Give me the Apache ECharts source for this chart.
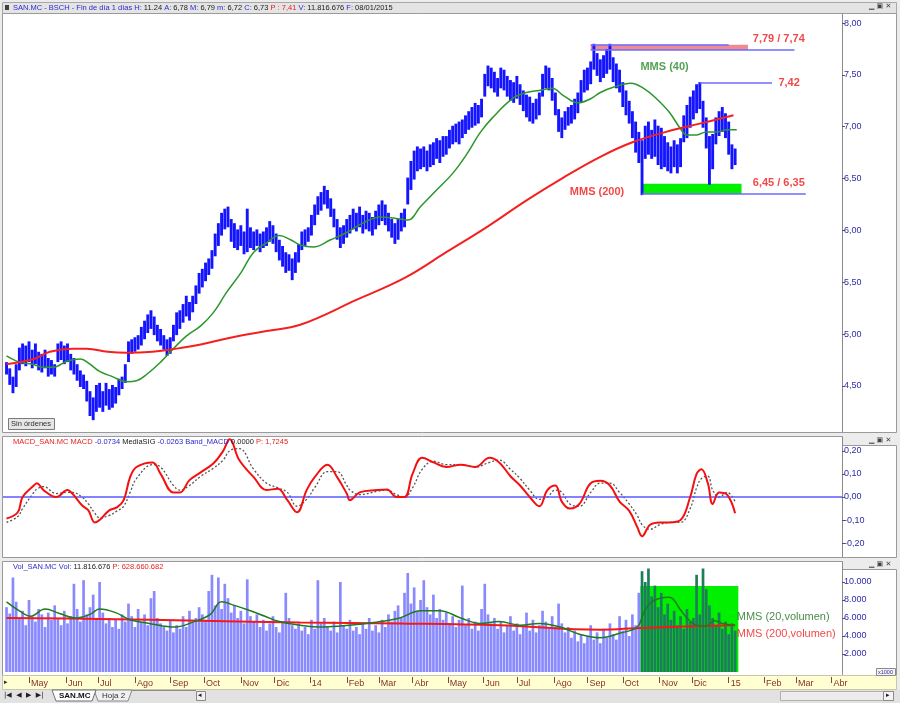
<!DOCTYPE html>
<html lang="es">
<head>
<meta charset="UTF-8">
<title>SAN.MC - BSCH</title>
<script src="https://cdn.jsdelivr.net/npm/echarts@6/dist/echarts.min.js"></script>
<style>
  html, body { margin: 0; padding: 0; width: 100%; height: 100%; background: #ececec; }
  #chart { width: 900px; height: 703px; }
</style>
</head>
<body>
<div id="chart"></div>
<script>
  // x axis = trading day index, day 0 = 11/04/2013
  const monthNames = ['', 'Feb', 'Mar', 'Abr', 'May', 'Jun', 'Jul', 'Ago', 'Sep', 'Oct', 'Nov', 'Dic'];

  // price bars, one every 2 sessions (day index = 2 * i)
  const priceLow = [
    4.62, 4.52, 4.44, 4.50, 4.66, 4.72, 4.70, 4.74, 4.68, 4.72,
    4.66, 4.64, 4.68, 4.60, 4.62, 4.60, 4.74, 4.76, 4.72, 4.74,
    4.66, 4.62, 4.56, 4.50, 4.48, 4.36, 4.22, 4.18, 4.26, 4.30,
    4.26, 4.32, 4.28, 4.30, 4.34, 4.42, 4.48, 4.54, 4.74, 4.82,
    4.84, 4.86, 4.90, 4.96, 5.02, 5.06, 5.00, 4.94, 4.90, 4.86,
    4.80, 4.82, 4.94, 5.00, 5.06, 5.12, 5.18, 5.14, 5.22, 5.30,
    5.40, 5.46, 5.52, 5.58, 5.64, 5.76, 5.86, 5.96, 6.02, 6.04,
    5.90, 5.84, 5.82, 5.86, 5.78, 5.80, 5.84, 5.82, 5.86, 5.80,
    5.84, 5.86, 5.90, 5.88, 5.80, 5.72, 5.66, 5.60, 5.62, 5.53,
    5.60, 5.70, 5.82, 5.86, 5.90, 5.96, 6.06, 6.16, 6.20, 6.26,
    6.22, 6.14, 6.04, 5.92, 5.84, 5.88, 5.94, 5.98, 6.02, 6.00,
    6.04, 5.98, 6.02, 6.00, 5.96, 6.02, 6.06, 6.10, 6.06, 6.00,
    5.94, 5.88, 5.92, 6.00, 6.04, 6.26, 6.40, 6.50, 6.58, 6.60,
    6.62, 6.58, 6.62, 6.64, 6.70, 6.66, 6.72, 6.74, 6.80, 6.84,
    6.86, 6.84, 6.90, 6.94, 6.98, 7.00, 7.02, 7.04, 7.10, 7.30,
    7.40, 7.38, 7.34, 7.30, 7.38, 7.36, 7.30, 7.26, 7.24, 7.28,
    7.22, 7.16, 7.10, 7.06, 7.04, 7.08, 7.12, 7.30, 7.38, 7.36,
    7.26, 7.12, 6.96, 6.90, 6.98, 7.02, 7.04, 7.08, 7.14, 7.24,
    7.34, 7.36, 7.42, 7.56, 7.50, 7.44, 7.48, 7.52, 7.56, 7.44,
    7.38, 7.34, 7.20, 7.12, 7.04, 6.90, 6.76, 6.66, 6.35, 6.70,
    6.74, 6.70, 6.72, 6.64, 6.60, 6.62, 6.58, 6.56, 6.62, 6.56,
    6.62, 6.86, 6.90, 7.00, 7.08, 7.14, 7.18, 7.00, 6.80, 6.45,
    6.60, 6.84, 6.92, 6.96, 6.90, 6.74, 6.60, 6.64
  ];
  const priceHigh = [
    4.72, 4.66, 4.58, 4.70, 4.86, 4.90, 4.88, 4.92, 4.84, 4.90,
    4.82, 4.80, 4.84, 4.76, 4.74, 4.70, 4.90, 4.92, 4.88, 4.90,
    4.80, 4.76, 4.70, 4.64, 4.60, 4.54, 4.44, 4.38, 4.50, 4.52,
    4.44, 4.52, 4.46, 4.50, 4.48, 4.56, 4.58, 4.70, 4.92, 4.94,
    4.96, 4.98, 5.06, 5.12, 5.18, 5.22, 5.16, 5.08, 5.04, 4.98,
    4.94, 4.96, 5.08, 5.20, 5.22, 5.28, 5.36, 5.30, 5.36, 5.46,
    5.58, 5.62, 5.68, 5.72, 5.80, 5.96, 6.06, 6.16, 6.20, 6.22,
    6.10, 6.06, 6.00, 6.04, 5.98, 6.20, 6.02, 5.98, 6.00, 5.96,
    5.98, 6.02, 6.08, 6.04, 5.96, 5.90, 5.84, 5.78, 5.76, 5.72,
    5.78, 5.86, 5.98, 6.00, 6.02, 6.14, 6.24, 6.32, 6.36, 6.42,
    6.38, 6.30, 6.20, 6.10, 6.02, 6.04, 6.10, 6.14, 6.20, 6.16,
    6.22, 6.14, 6.18, 6.16, 6.12, 6.18, 6.24, 6.28, 6.24, 6.16,
    6.10, 6.06, 6.10, 6.16, 6.20, 6.50, 6.66, 6.76, 6.80, 6.78,
    6.80, 6.76, 6.82, 6.84, 6.88, 6.86, 6.90, 6.90, 6.96, 7.00,
    7.02, 7.04, 7.06, 7.10, 7.14, 7.18, 7.22, 7.20, 7.26, 7.50,
    7.58, 7.56, 7.52, 7.46, 7.56, 7.54, 7.48, 7.44, 7.42, 7.48,
    7.40, 7.34, 7.30, 7.28, 7.22, 7.26, 7.32, 7.50, 7.58, 7.56,
    7.46, 7.32, 7.16, 7.08, 7.14, 7.18, 7.20, 7.26, 7.32, 7.44,
    7.54, 7.56, 7.62, 7.79, 7.70, 7.64, 7.68, 7.74, 7.79, 7.66,
    7.60, 7.54, 7.42, 7.34, 7.24, 7.14, 7.04, 6.94, 6.86, 7.00,
    7.04, 6.96, 7.06, 7.00, 6.98, 6.90, 6.84, 6.80, 6.86, 6.82,
    6.88, 7.10, 7.20, 7.28, 7.34, 7.40, 7.42, 7.24, 7.08, 6.90,
    6.92, 7.08, 7.14, 7.18, 7.12, 7.04, 6.82, 6.78
  ];
  // volume (miles), same sessions as the price bars
  const volume = [
    7200, 6500, 10500, 7800, 6000, 6800, 5200, 8000, 6200, 5600,
    7000, 6400, 5000, 6600, 5800, 7400, 6000, 5200, 6800, 5400,
    6200, 9800, 7000, 5600, 10200, 6400, 7200, 8600, 6000, 10000,
    6600, 5400, 6000, 5000, 5800, 4800, 6400, 5600, 7600, 6200,
    5000, 7000, 5600, 6400, 5200, 8200, 9000, 6000, 5400, 5000,
    4600, 5800, 4400, 5200, 4800, 6200, 5000, 6800, 5600, 6000,
    7200, 6400, 5800, 9000, 10800, 7400, 10500, 7000, 9800, 8200,
    6600, 7400, 6000, 6800, 5400, 10300, 6200, 5600, 6400, 5000,
    5800, 4600, 5400, 6200, 5000, 4400, 5600, 8800, 6000, 5200,
    4800, 5400, 4600, 5000, 4200, 5800, 4800, 10200, 5400, 6000,
    5000, 4600, 5600, 4400, 10000, 5200, 4800, 5800, 4600, 5000,
    4200, 5400, 4800, 6000, 4600, 5200, 4400, 5800, 5000, 6400,
    5600, 6800, 7400, 6000, 8800, 11000, 7600, 9400, 6800, 8000,
    10200, 7200, 6400, 8600, 6000, 7000, 5800, 6600, 5400, 6200,
    5000, 5800, 9600, 5200, 6000, 4800, 5600, 4600, 7000, 9800,
    6400, 5400, 6000, 4800, 5600, 4400, 5200, 6200, 4600, 5400,
    4200, 5000, 6600, 4600, 5800, 4400, 5200, 6800, 5600, 4800,
    6200, 5000, 7600, 5400, 4400, 5000, 3800, 4600, 3400, 4200,
    3200, 4000, 5200, 3600, 4400, 3200, 4800, 3800, 5400, 4200,
    3600, 6200, 4600, 5800, 4000, 6400, 5200, 8800, 11200, 10000,
    11500, 8400, 9600, 7200, 8800, 6400, 7600, 5800, 6800, 5200,
    6200, 4800, 7000, 5600, 6000, 10800, 6400, 11500, 9200, 7400,
    6000, 5200, 6600, 4800, 5600, 4200, 5400, 4600
  ];

  // MMS (40) and MMS (200) of the price
  const ma40Days = [0, 8, 16, 23, 29, 38, 46, 52, 58, 66, 75, 81, 88, 96, 104, 112, 121, 129, 137, 146,
    154, 162, 170, 177, 183, 191, 202, 212, 222, 233, 241, 250, 258, 268, 278, 287, 295, 303, 316, 324,
    332, 340, 347, 356, 364, 370, 378, 389, 397, 405, 413, 420, 424, 430, 436, 443, 449, 455];
  const ma40 = [4.79, 4.73, 4.71, 4.68, 4.68, 4.74, 4.76, 4.71, 4.64, 4.59, 4.54, 4.55, 4.62, 4.73, 4.86, 4.98, 5.08, 5.21, 5.40, 5.59,
    5.79, 5.88, 5.95, 5.91, 5.86, 5.84, 5.91, 5.98, 6.07, 6.13, 6.12, 6.10, 6.23, 6.39, 6.55, 6.74, 6.94, 7.09, 7.28, 7.33,
    7.35, 7.37, 7.30, 7.23, 7.27, 7.33, 7.38, 7.42, 7.37, 7.27, 7.14, 6.98, 6.92, 6.92, 6.95, 6.95, 6.97, 6.97];
  const ma200Days = [0, 17, 27, 41, 50, 63, 75, 91, 106, 121, 141, 162, 183, 218, 249, 274, 299, 324, 347, 370, 390, 411, 432, 453];
  const ma200 = [4.71, 4.76, 4.83, 4.86, 4.86, 4.83, 4.82, 4.83, 4.86, 4.90, 4.97, 5.03, 5.09, 5.33, 5.55, 5.79, 6.03, 6.29, 6.51, 6.71, 6.85, 6.95, 7.03, 7.11];

  // MACD and its signal (MediaSIG)
  const macdDays = [0, 7, 10, 17, 19, 23, 31, 38, 41, 47, 51, 55, 58, 64, 69, 73, 77, 81, 91, 96,
    104, 108, 114, 121, 129, 135, 139, 145, 154, 162, 169, 175, 181, 187, 192, 200, 206, 212, 214, 220,
    231, 237, 243, 248, 253, 259, 266, 274, 283, 292, 301, 307, 314, 320, 326, 332, 337, 342, 346, 351,
    357, 364, 370, 376, 382, 388, 393, 396, 401, 407, 413, 420, 426, 430, 433, 437, 440, 444, 449, 454];
  const macd = [-0.093, -0.066, 0.0, 0.05, 0.06, 0.03, 0.0, 0.03, 0.015, -0.036, -0.058, -0.11, -0.10, -0.058, -0.044, -0.014, 0.086, 0.13, 0.15, 0.10,
    0.02, 0.02, 0.073, 0.107, 0.146, 0.20, 0.25, 0.16, 0.086, 0.03, 0.036, -0.014, -0.066, 0.03, 0.086, 0.14, 0.086, 0.015, -0.014, 0.02,
    0.03, 0.033, 0.0, 0.0, 0.10, 0.17, 0.15, 0.13, 0.14, 0.13, 0.17, 0.15, 0.09, 0.05, 0.0, -0.04, 0.03, 0.05, -0.02, -0.05,
    -0.03, 0.06, 0.07, 0.05, -0.02, -0.06, -0.13, -0.17, -0.12, -0.11, -0.11, -0.10, 0.0, 0.10, 0.12, 0.06, -0.03, 0.02, 0.01, -0.07];
  const signal = [-0.11, -0.085, -0.05, 0.02, 0.035, 0.045, 0.015, 0.02, 0.02, 0.0, -0.03, -0.07, -0.09, -0.08, -0.06, -0.04, 0.02, 0.08, 0.14, 0.13,
    0.05, 0.03, 0.05, 0.09, 0.125, 0.16, 0.20, 0.21, 0.12, 0.06, 0.04, 0.02, -0.04, -0.01, 0.04, 0.11, 0.11, 0.05, 0.03, 0.01,
    0.025, 0.03, 0.01, 0.0, 0.04, 0.12, 0.155, 0.14, 0.14, 0.13, 0.15, 0.16, 0.12, 0.08, 0.03, -0.01, 0.0, 0.03, 0.02, -0.03,
    -0.04, 0.02, 0.06, 0.06, 0.02, -0.03, -0.08, -0.12, -0.14, -0.12, -0.11, -0.11, -0.05, 0.04, 0.08, 0.09, 0.03, 0.0, 0.02, -0.02];

  // MMS (20) and MMS (200) of the volume
  const vol20Days = [0, 8, 15, 24, 33, 43, 52, 58, 68, 77, 89, 105, 117, 127, 134, 142, 152, 161, 170, 183,
    195, 208, 220, 233, 245, 258, 270, 283, 295, 307, 320, 332, 345, 357, 370, 382, 393, 397, 401, 407,
    413, 420, 424, 430, 436, 441, 446, 454];
  const vol20 = [7800, 6800, 6200, 7000, 6500, 6000, 6400, 7000, 6600, 5800, 5400, 5000, 5600, 6400, 7800, 7400, 6800, 6200, 5600, 5200,
    5000, 5100, 5300, 5600, 6000, 6800, 6800, 6000, 5400, 5600, 5200, 5400, 5000, 4200, 3800, 4300, 5000, 6550, 7640, 8200,
    8300, 6900, 6000, 5200, 5100, 5700, 5400, 5200];
  const vol200Days = [0, 58, 121, 183, 245, 307, 370, 395, 432, 454];
  const vol200 = [6000, 5900, 5700, 5500, 5400, 5200, 4700, 4900, 5100, 5200];

  // levels drawn on the price panel
  const topZone = { from: 364, lineEnd: 450, lowEnd: 491, boxEnd: 462, hi: 7.79, lo: 7.74 };
  const midLevel = { from: 432, to: 477, value: 7.42 };
  const lowZone = { from: 396, boxEnd: 458, lineEnd: 498, hi: 6.45, lo: 6.35 };
  const volZone = { from: 395, to: 456, top: 9550 };

  const priceNotes = [
    { day: 465, value: 7.846, text: '7,79 / 7,74', color: '#f01818' },
    { day: 481, value: 7.42, text: '7,42', color: '#f01818' },
    { day: 465, value: 6.457, text: '6,45 / 6,35', color: '#f01818' },
    { day: 395, value: 7.576, text: 'MMS (40)', color: '#2b8a2b' },
    { day: 351, value: 6.37, text: 'MMS (200)', color: '#f01818' }
  ];
  const volNotes = [
    { day: 455, value: 6111, text: 'MMS (20,volumen)', color: '#1d6e1d' },
    { day: 455, value: 4222, text: 'MMS (200,volumen)', color: '#f01818' }
  ];

  const priceTicks = [4.5, 5, 5.5, 6, 6.5, 7, 7.5, 8];
  const macdTicks = [-0.2, -0.1, 0, 0.1, 0.2];
  const volTicks = [2000, 4000, 6000, 8000, 10000];

  // ---- trading calendar (weekdays) for the month ticks ----
  const calendar = [];
  const day = new Date(Date.UTC(2013, 3, 11));
  while (calendar.length < 525) {
    const wd = day.getUTCDay();
    if (wd !== 0 && wd !== 6) calendar.push({ m: day.getUTCMonth(), y: day.getUTCFullYear() });
    day.setUTCDate(day.getUTCDate() + 1);
  }
  const monthTicks = [];
  for (let i = 1; i < calendar.length; i++) {
    if (calendar[i].m !== calendar[i - 1].m) monthTicks.push(i);
  }
  function monthLabel(v) {
    const c = calendar[Math.round(v)];
    if (!c) return '';
    return c.m === 0 ? String(c.y).slice(2) : monthNames[c.m];
  }

  const barDays = priceLow.map((v, i) => i * 2);
  const xMin = -2.2, xMax = 520.6;
  const FONT = '"Liberation Sans", Arial, sans-serif';

  function pairs(days, vals) {
    return days.map((d, i) => [d, vals[i]]);
  }

  function commaFmt(v) {
    return v.toFixed(2).replace('.', ',');
  }
  function thousandFmt(v) {
    return String(v).replace(/\B(?=(\d{3})+(?!\d))/g, '.');
  }

  function yAxisBase(grid, min, max, ticks, fmt) {
    return {
      type: 'value', gridIndex: grid, position: 'right', min: min, max: max,
      axisLine: { show: true, onZero: false, lineStyle: { color: '#8a8a8a' } },
      axisTick: { show: true, length: 3, customValues: ticks, lineStyle: { color: '#555' } },
      axisLabel: { customValues: ticks, formatter: fmt, color: '#2c2ca8', fontSize: 9, margin: 2, fontFamily: FONT },
      splitLine: { show: false }
    };
  }

  function noteSeries(x, y, notes, size, weight) {
    return {
      type: 'scatter', xAxisIndex: x, yAxisIndex: y, symbolSize: 0, silent: true, z: 20,
      data: notes.map(n => ({
        value: [n.day, n.value],
        label: {
          show: true, position: 'right', distance: 0, formatter: n.text,
          color: n.color, fontSize: size, fontWeight: weight, fontFamily: FONT
        }
      }))
    };
  }

  const blueLevel = { color: '#6b6bff', width: 1.5, type: 'solid' };
  const richHead = {
    b: { fill: '#2a2ad0', fontSize: 7.5 },
    k: { fill: '#202020', fontSize: 7.5 },
    r: { fill: '#e82020', fontSize: 7.5 }
  };
  const winButtons = '\u2581 \u25a3 \u2715';

  const chrome = [
    { type: 'rect', z: -10, shape: { x: 0, y: 0, width: 900, height: 703 }, style: { fill: '#ececec' } },
    // top title bar
    { type: 'rect', z: -5, shape: { x: 2.5, y: 2.5, width: 894, height: 11 }, style: { fill: '#e4e4e4', stroke: '#a8a8a8' } },
    { type: 'rect', z: 50, shape: { x: 5, y: 5, width: 4, height: 5 }, style: { fill: '#404040' } },
    // panels
    { type: 'rect', z: -5, shape: { x: 2.5, y: 13.5, width: 840, height: 419 }, style: { fill: '#fff', stroke: '#9a9a9a' } },
    { type: 'rect', z: -5, shape: { x: 842.5, y: 13.5, width: 54, height: 419 }, style: { fill: '#fff', stroke: '#9a9a9a' } },
    { type: 'rect', z: -5, shape: { x: 2.5, y: 436.5, width: 840, height: 121 }, style: { fill: '#fff', stroke: '#9a9a9a' } },
    { type: 'rect', z: -5, shape: { x: 842.5, y: 445.5, width: 54, height: 112 }, style: { fill: '#fff', stroke: '#9a9a9a' } },
    { type: 'rect', z: -5, shape: { x: 2.5, y: 561.5, width: 840, height: 114 }, style: { fill: '#fff', stroke: '#9a9a9a' } },
    { type: 'rect', z: -5, shape: { x: 842.5, y: 569.5, width: 54, height: 106 }, style: { fill: '#fff', stroke: '#9a9a9a' } },
    // window buttons
    { type: 'text', z: 50, x: 869, y: 3, style: { text: winButtons, fontSize: 7, fill: '#404040', fontFamily: 'DejaVu Sans' } },
    { type: 'text', z: 50, x: 869, y: 437, style: { text: winButtons, fontSize: 7, fill: '#404040', fontFamily: 'DejaVu Sans' } },
    { type: 'text', z: 50, x: 869, y: 561, style: { text: winButtons, fontSize: 7, fill: '#404040', fontFamily: 'DejaVu Sans' } },
    // panel headers
    {
      type: 'text', z: 50, x: 13, y: 4,
      style: {
        text: '{b|SAN.MC - BSCH - Fin de día 1 días} {b|H:} {k|11.24} {b|A:} {k|6,78} {b|M:} {k|6,79} {b|m:} {k|6,72} {b|C:} {k|6,73} {r|P : 7,41} {b|V:} {k|11.816.676} {b|F:} {k|08/01/2015}',
        fontSize: 7.5, fontFamily: FONT, rich: richHead
      }
    },
    {
      type: 'text', z: 50, x: 13, y: 438,
      style: {
        text: '{r|MACD_SAN.MC MACD} {b|-0.0734} {k|MediaSIG} {b|-0.0263} {b|Band_MACD} {k|0.0000} {r|P: 1,7245}',
        fontSize: 7.5, fontFamily: FONT, rich: richHead
      }
    },
    {
      type: 'text', z: 50, x: 13, y: 563,
      style: {
        text: '{b|Vol_SAN.MC Vol:} {k|11.816.676} {r|P: 628.660.682}',
        fontSize: 7.5, fontFamily: FONT, rich: richHead
      }
    },
    // "Sin órdenes" button
    { type: 'rect', z: 50, shape: { x: 8.5, y: 418.5, width: 46, height: 11 }, style: { fill: '#e6e6e6', stroke: '#7a7a7a' } },
    { type: 'text', z: 51, x: 11, y: 420, style: { text: 'Sin órdenes', fontSize: 7.5, fill: '#303030', fontFamily: FONT } },
    // x axis strip
    { type: 'rect', z: -5, shape: { x: 2.5, y: 675.5, width: 894, height: 14 }, style: { fill: '#ffffd2', stroke: '#c8c8a8' } },
    { type: 'text', z: 50, x: 4, y: 679, style: { text: '\u25b8', fontSize: 7, fill: '#303030', fontFamily: 'DejaVu Sans' } },
    { type: 'rect', z: 50, shape: { x: 876.5, y: 668.5, width: 19, height: 7 }, style: { fill: '#f4f4f4', stroke: '#8a8a8a' } },
    { type: 'text', z: 51, x: 878, y: 669, style: { text: 'x1000', fontSize: 5.5, fill: '#2c2ca8', fontFamily: FONT } },
    // sheet tabs bar
    { type: 'rect', z: -5, shape: { x: 0, y: 690, width: 900, height: 13 }, style: { fill: '#e2e2e2' } },
    { type: 'text', z: 50, x: 4, y: 692, style: { text: '|\u25c0  \u25c0  \u25b6  \u25b6|', fontSize: 7, fill: '#202020', fontFamily: 'DejaVu Sans' } },
    { type: 'polygon', z: 50, shape: { points: [[52, 690], [56, 701], [92, 701], [96, 690]] }, style: { fill: '#ffffff', stroke: '#707070' } },
    { type: 'text', z: 51, x: 59, y: 692, style: { text: 'SAN.MC', fontSize: 8, fontWeight: 'bold', fill: '#101010', fontFamily: FONT } },
    { type: 'polygon', z: 49, shape: { points: [[94, 690], [98, 701], [128, 701], [132, 690]] }, style: { fill: '#f0f0f0', stroke: '#8a8a8a' } },
    { type: 'text', z: 51, x: 102, y: 692, style: { text: 'Hoja 2', fontSize: 8, fill: '#303030', fontFamily: FONT } },
    { type: 'line', z: 49, shape: { x1: 132, y1: 690.5, x2: 196, y2: 690.5 }, style: { stroke: '#8a8a8a' } },
    { type: 'rect', z: 50, shape: { x: 196.5, y: 691.5, width: 9, height: 9 }, style: { fill: '#f0f0f0', stroke: '#8a8a8a' } },
    { type: 'text', z: 51, x: 198, y: 692, style: { text: '\u25c2', fontSize: 7, fill: '#202020', fontFamily: 'DejaVu Sans' } },
    { type: 'rect', z: 50, shape: { x: 780.5, y: 691.5, width: 113, height: 9 }, style: { fill: '#ececec', stroke: '#b0b0b0' } },
    { type: 'rect', z: 50, shape: { x: 883.5, y: 691.5, width: 10, height: 9 }, style: { fill: '#f4f4f4', stroke: '#8a8a8a' } },
    { type: 'text', z: 51, x: 886, y: 692, style: { text: '\u25b8', fontSize: 7, fill: '#202020', fontFamily: 'DejaVu Sans' } }
  ];

  const chart = echarts.init(document.getElementById('chart'), null, { renderer: 'canvas' });

  const option = {
    animation: false,
    backgroundColor: '#ececec',
    graphic: chrome,
    grid: [
      { left: 3, top: 14, width: 839, height: 418 },
      { left: 3, top: 437, width: 839, height: 120 },
      { left: 3, top: 562, width: 839, height: 110 }
    ],
    xAxis: [
      { type: 'value', gridIndex: 0, min: xMin, max: xMax, show: false },
      { type: 'value', gridIndex: 1, min: xMin, max: xMax, show: false },
      {
        type: 'value', gridIndex: 2, min: xMin, max: xMax, position: 'bottom', offset: 5,
        axisLine: { show: false, onZero: false },
        axisTick: { show: true, length: 6, customValues: monthTicks, lineStyle: { color: '#7a4a4a' } },
        axisLabel: {
          customValues: monthTicks, formatter: monthLabel, color: '#8a2e2e', fontSize: 9,
          margin: 2, align: 'left', padding: [0, 0, 0, 2], fontFamily: FONT
        },
        splitLine: { show: false }
      }
    ],
    yAxis: [
      yAxisBase(0, 4.056, 8.087, priceTicks, commaFmt),
      yAxisBase(1, -0.26, 0.26, macdTicks, commaFmt),
      yAxisBase(2, 0, 12222, volTicks, thousandFmt)
    ],
    series: [
      // price bars
      {
        type: 'custom', xAxisIndex: 0, yAxisIndex: 0, z: 4, silent: true,
        data: barDays.map((d, i) => [d, priceLow[i], priceHigh[i]]),
        renderItem: function (params, api) {
          const lo = api.coord([api.value(0), api.value(1)]);
          const hi = api.coord([api.value(0), api.value(2)]);
          return {
            type: 'line',
            shape: { x1: lo[0], y1: lo[1] + 1, x2: hi[0], y2: hi[1] - 1 },
            style: { stroke: '#1414ff', lineWidth: 2.9 }
          };
        }
      },
      {
        type: 'line', xAxisIndex: 0, yAxisIndex: 0, z: 5, silent: true,
        data: pairs(ma40Days, ma40), smooth: 0.4, showSymbol: false,
        lineStyle: { color: '#2b962b', width: 1.5 }
      },
      {
        type: 'line', xAxisIndex: 0, yAxisIndex: 0, z: 5, silent: true,
        data: pairs(ma200Days, ma200), smooth: 0.4, showSymbol: false,
        lineStyle: { color: '#f42020', width: 2 },
        markArea: {
          silent: true,
          data: [
            [{ coord: [topZone.from, topZone.hi], itemStyle: { color: '#f08a90' } }, { coord: [topZone.boxEnd, topZone.lo] }],
            [{ coord: [lowZone.from, lowZone.hi], itemStyle: { color: '#00f000' } }, { coord: [lowZone.boxEnd, lowZone.lo] }]
          ]
        },
        markLine: {
          silent: true, symbol: 'none', label: { show: false }, lineStyle: blueLevel,
          data: [
            [{ coord: [topZone.from, topZone.hi] }, { coord: [topZone.lineEnd, topZone.hi] }],
            [{ coord: [topZone.from, topZone.lo] }, { coord: [topZone.lowEnd, topZone.lo] }],
            [{ coord: [midLevel.from, midLevel.value] }, { coord: [midLevel.to, midLevel.value] }],
            [{ coord: [lowZone.from, lowZone.lo] }, { coord: [lowZone.lineEnd, lowZone.lo] }]
          ]
        }
      },
      noteSeries(0, 0, priceNotes, 11, 'bold'),
      // MACD
      {
        type: 'line', xAxisIndex: 1, yAxisIndex: 1, z: 4, silent: true,
        data: pairs(macdDays, signal), smooth: 0.4, showSymbol: false,
        lineStyle: { color: '#555', width: 1.3, type: [2, 2] }
      },
      {
        type: 'line', xAxisIndex: 1, yAxisIndex: 1, z: 5, silent: true,
        data: pairs(macdDays, macd), smooth: 0.4, showSymbol: false,
        lineStyle: { color: '#f41010', width: 2 },
        markLine: {
          silent: true, symbol: 'none', label: { show: false },
          lineStyle: { color: '#5a5aff', width: 1.5, type: 'solid' },
          data: [{ yAxis: 0 }]
        }
      },
      // volume
      {
        type: 'bar', xAxisIndex: 2, yAxisIndex: 2, z: 3, silent: true, barWidth: 2.7,
        data: barDays.map((d, i) => ({
          value: [d, volume[i]],
          itemStyle: { color: d >= volZone.from ? '#1c7f5a' : '#8a8aff' }
        })),
        markArea: {
          silent: true,
          data: [[{ coord: [volZone.from, volZone.top], itemStyle: { color: '#00f000' } }, { coord: [volZone.to, 0] }]]
        }
      },
      {
        type: 'line', xAxisIndex: 2, yAxisIndex: 2, z: 5, silent: true,
        data: pairs(vol200Days, vol200), smooth: 0.4, showSymbol: false,
        lineStyle: { color: '#f41818', width: 2 }
      },
      {
        type: 'line', xAxisIndex: 2, yAxisIndex: 2, z: 6, silent: true,
        data: pairs(vol20Days, vol20), smooth: 0.4, showSymbol: false,
        lineStyle: { color: '#1e7a1e', width: 1.5 }
      },
      noteSeries(2, 2, volNotes, 11, 'normal')
    ]
  };

  chart.setOption(option);
</script>
</body>
</html>
